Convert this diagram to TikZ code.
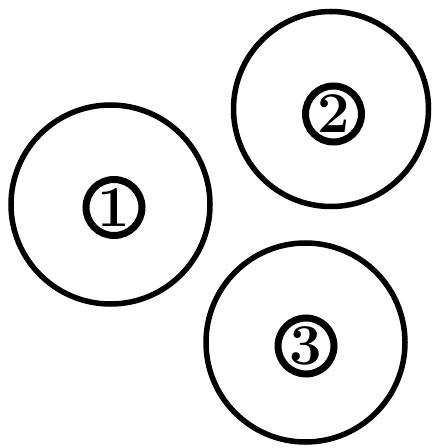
\documentclass[tikz,border=0pt]{standalone}
\begin{document}
\begin{tikzpicture}[x=1bp,y=-1bp,
  bigring/.style={circle,draw=black,line width=5.5bp,inner sep=0pt,minimum size=199bp},
  numring/.style={circle,draw=black,line width=7bp,inner sep=0pt,minimum size=56bp,
    font=\fontsize{58}{58}\selectfont\bfseries}]
  \useasboundingbox (0,0) rectangle (435,448);
  \node[bigring] (c1) at (110.5,204.5) {};
  \node[bigring,minimum size=195bp] (c2) at (331,109) {};
  \node[bigring] (c3) at (305.5,342.5) {};
  \node[numring] (n1) at (114,207.5) {1};
  \node[numring] (n2) at (333.5,114) {2};
  \node[numring] (n3) at (306,346) {3};
\end{tikzpicture}
\end{document}
